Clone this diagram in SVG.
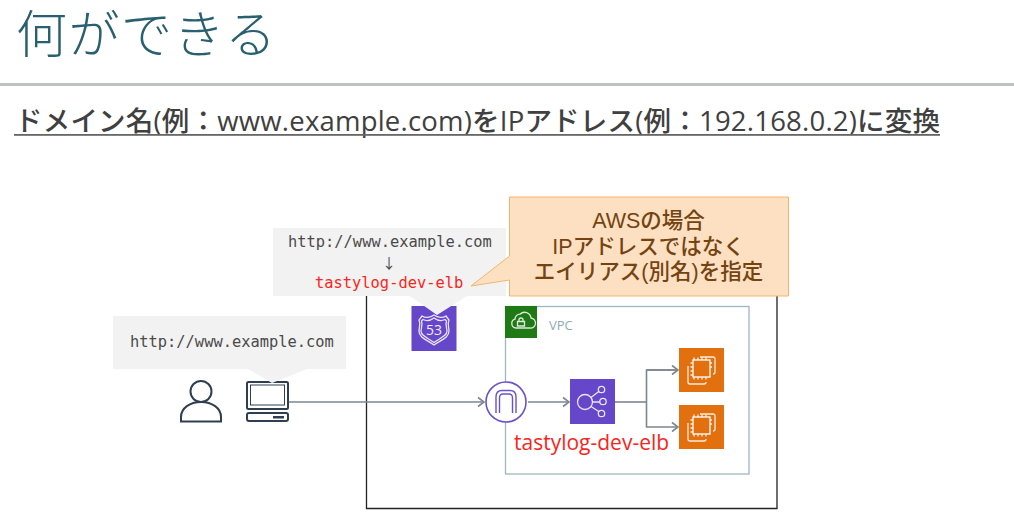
<svg xmlns="http://www.w3.org/2000/svg" width="1014" height="528" viewBox="0 0 1014 528">
<style>
text{font-family:"Open Sans","Noto Sans CJK JP",sans-serif}
.mono{font-family:"DejaVu Sans Mono",monospace;font-size:15.4px;fill:#4a4a4a}
.red{fill:#f8261c}
.bub{fill:#f2f2f2}
.cn{fill:none;stroke:#7d8790;stroke-width:1.6;marker-end:url(#a)}
.ln{fill:none;stroke:#7d8790;stroke-width:1.6}
.ic{fill:none;stroke:#fff;stroke-width:1.3;opacity:.85}
.dk{fill:none;stroke:#2f3f50;stroke-width:2}
.call{font-family:"Liberation Sans","Noto Sans CJK JP",sans-serif;font-size:21.5px;fill:#744311;text-anchor:middle;font-weight:500}
</style>
<defs>
<marker id="a" markerWidth="10" markerHeight="12" refX="8" refY="6" orient="auto" markerUnits="userSpaceOnUse"><path d="M2 1.5L8 6L2 10.5" fill="none" stroke="#7d8790" stroke-width="1.6"/></marker>
<g id="ec2i"><rect x="14" y="12" width="17" height="17" fill="none" stroke="#fff" stroke-width="1.3"/><path class="ic" d="M21 9h13a2 2 0 0 1 2 2v13a2 2 0 0 1-2 2M9 18v16a2 2 0 0 0 2 2h14a2 2 0 0 0 2-2M15 12V9.500M19 12V9.500M23 12V9.500M27 12V9.500M15 31.500V29M19 31.500V29M23 31.500V29M27 31.500V29M11.500 15H14M11.500 19H14M11.500 23H14M11.500 27H14M31 15h2M31 19h2"/></g>
</defs>
<rect width="1014" height="528" fill="#fff"/>
<g id="header">
<text x="16" y="53" font-size="51" fill="#28606f" font-weight="300" letter-spacing="1.500" style="font-family:'Liberation Sans','Noto Sans CJK JP',sans-serif">何ができる</text>
<rect x="0" y="83" width="1014" height="3" fill="#bcc3c1"/>
<text x="15" y="131" font-size="27.500" fill="#404040" font-weight="500" textLength="925" lengthAdjust="spacing">ドメイン名(例：www.example.com)をIPアドレス(例：192.168.0.2)に変換</text>
<rect x="14" y="134" width="926" height="1.800" fill="#666"/>
</g>
<g id="cloud-frame"><path d="M366.500 296V508.500H777V296" fill="none" stroke="#222" stroke-width="1.300"/></g>
<g id="vpc">
<rect x="505.500" y="306.500" width="243.500" height="167.500" fill="#fff" stroke="#9db8c0" stroke-width="1.300"/>
<rect x="505" y="306" width="32" height="32" fill="#1f7a15"/>
<path class="ic" d="M516 328a4.500 4.500 0 0 1-1-8.800a5 5 0 0 1 5-5a6.500 6.500 0 0 1 11 3.800a5 5 0 0 1-1 10ZM517.500 326h7v-4.500h-7ZM519 321.500v-1.500a2 2 0 0 1 4 0v1.500"/>
<text x="549" y="330" font-size="13" fill="#8fabb6">VPC</text>
</g>
<g id="connectors">
<path class="cn" d="M289 402H484"/>
<path class="cn" d="M528 402H569"/>
<path class="ln" d="M615 402H646"/>
<path class="cn" d="M678 370H646.500V427H678"/>
<path class="cn" d="M646.500 370H678"/>
</g>
<g id="user">
<circle cx="201" cy="391.500" r="10.500" class="dk"/>
<path class="dk" d="M181 421.500V417C181 408 190 402 201 402S221 408 221 417V421.500Z"/>
</g>
<g id="client">
<rect x="247" y="382" width="41" height="27" rx="1.500" class="dk"/>
<rect x="250.500" y="385" width="34" height="20" fill="none" stroke="#2f3f50" stroke-width="1"/>
<rect x="247" y="413" width="41" height="8" rx="2" class="dk"/>
<rect x="273" y="416" width="11" height="2.500" fill="#2f3f50"/>
</g>
<g id="route53">
<rect x="411.500" y="306" width="45" height="45" fill="#6647c9"/>
<path class="ic" d="M434 315C438 318 443 318 446 316L449 320C447 324 449 327 449 331C449 338 441 340 434 345C427 340 419 338 419 331C419 327 421 324 419 320L422 316C425 318 430 318 434 315Z"/>
<path class="ic" d="M434 318C438 321 442 321 445 319.500L446.500 321C445 325 447 328 447 331C447 336 440 338 434 342.500C428 338 421 336 421 331C421 328 423 325 421.500 321L423 319.500C426 321 430 321 434 318Z"/>
<text x="434" y="335" font-size="14" fill="#fff" text-anchor="middle" opacity=".9">53</text>
</g>
<g id="bubble-client">
<path class="bub" d="M113 316H346V369H307L272 383L248 369H113Z"/>
<text x="130" y="347" class="mono">http://www.example.com</text>
</g>
<g id="bubble-dns">
<path class="bub" d="M273 228H506V296H467L437 315L410 296H273Z"/>
<text x="288" y="247" class="mono">http://www.example.com<tspan x="389" y="268" text-anchor="middle" style="font-family:'Noto Sans CJK JP',sans-serif;font-size:14px">↓</tspan><tspan x="315" y="288" class="red">tastylog-dev-elb</tspan></text>
</g>
<g id="callout">
<path d="M509.500 197H788.500V296H509.500V280L471 286L509.500 256Z" fill="#fde0c2" stroke="#f2b56b" stroke-width="1"/>
<text class="call"><tspan x="648.500" y="228">AWSの場合</tspan><tspan x="648.500" y="254">IPアドレスではなく</tspan><tspan x="648.500" y="279">エイリアス(別名)を指定</tspan></text>
</g>
<g id="igw">
<circle cx="506" cy="402" r="20" fill="#fff" stroke="#6b52cb" stroke-width="1.600"/>
<path d="M496 413V397Q496 390.500 502 390.500H510Q516 390.500 516 397V413M499.500 413V398Q499.500 394 503 394H509Q512.500 394 512.500 398V413" fill="none" stroke="#6b52cb" stroke-width="1.400"/>
</g>
<g id="elb">
<rect x="570" y="379" width="45" height="45" fill="#6647c9"/>
<circle cx="585" cy="402" r="7.500" class="ic"/>
<circle cx="601.500" cy="389.500" r="3.200" class="ic"/>
<circle cx="603" cy="401.500" r="3.200" class="ic"/>
<circle cx="601.500" cy="413.500" r="3.200" class="ic"/>
<path class="ic" d="M591 397.500L598.800 391.500M592.500 402H599.800M591 406.500L598.800 411.500"/>
<text x="514" y="450" font-size="21" class="red">tastylog-dev-elb</text>
</g>
<g id="ec2-1">
<rect x="679" y="348" width="45" height="44" fill="#e2700f"/>
<use href="#ec2i" x="679" y="348"/>
</g>
<g id="ec2-2">
<rect x="679" y="405" width="45" height="44" fill="#e2700f"/>
<use href="#ec2i" x="679" y="405"/>
</g>
</svg>
